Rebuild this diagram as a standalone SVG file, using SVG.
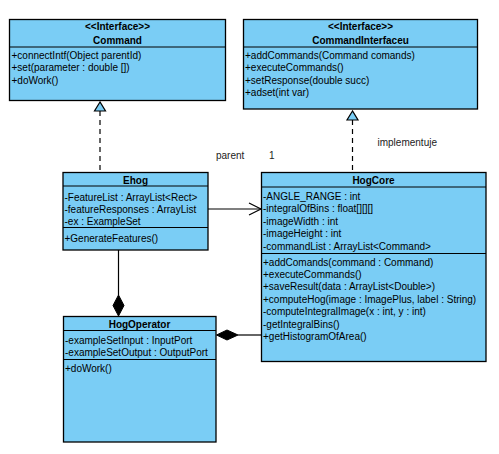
<svg xmlns="http://www.w3.org/2000/svg" width="499" height="454" viewBox="0 0 499 454">
<style>
.box{fill:#7ACDF5;stroke:#000;stroke-width:1.3}
.div{stroke:#000;stroke-width:1}
text{font-family:"Liberation Sans",Arial,sans-serif;font-size:10px;fill:#000}
.t{font-weight:bold;text-anchor:middle}
.lbl{font-size:10px;fill:#222}
.ln{stroke:#000;stroke-width:1.2;fill:none}
.dash{stroke-dasharray:5,4}
</style>
<rect width="499" height="454" fill="#fff"/>

<g id="Command">
<rect class="box" x="9.5" y="19.5" width="216" height="81"/>
<line class="div" x1="9.5" y1="47" x2="225.5" y2="47"/>
<text class="t" x="117.5" y="30">&lt;&lt;Interface&gt;&gt;</text>
<text class="t" x="117.5" y="43.5">Command</text>
<text x="11.5" y="59">+connectIntf(Object parentId)</text>
<text x="11.5" y="71.4">+set(parameter : double [])</text>
<text x="11.5" y="83.8">+doWork()</text>
</g>

<g id="CommandInterfaceu">
<rect class="box" x="243.5" y="19.5" width="234" height="89.5"/>
<line class="div" x1="243.5" y1="47" x2="477.5" y2="47"/>
<text class="t" x="360.5" y="30">&lt;&lt;Interface&gt;&gt;</text>
<text class="t" x="360.5" y="43.5">CommandInterfaceu</text>
<text x="245" y="59">+addCommands(Command comands)</text>
<text x="245" y="71.4">+executeCommands()</text>
<text x="245" y="83.8">+setResponse(double succ)</text>
<text x="245" y="96.2">+adset(int var)</text>
</g>

<g id="Ehog">
<rect class="box" x="63" y="172.5" width="145" height="77.5"/>
<line class="div" x1="63" y1="186" x2="208" y2="186"/>
<line class="div" x1="63" y1="227.5" x2="208" y2="227.5"/>
<text class="t" x="135.5" y="184">Ehog</text>
<text x="64.5" y="200.5">-FeatureList : ArrayList&lt;Rect&gt;</text>
<text x="64.5" y="212.9">-featureResponses : ArrayList</text>
<text x="64.5" y="225">-ex : ExampleSet</text>
<text x="64.5" y="241.8">+GenerateFeatures()</text>
</g>

<g id="HogCore">
<rect class="box" x="261.5" y="172.5" width="224.5" height="189"/>
<line class="div" x1="261.5" y1="187" x2="486" y2="187"/>
<line class="div" x1="261.5" y1="253.5" x2="486" y2="253.5"/>
<text class="t" x="373.5" y="184">HogCore</text>
<text x="263" y="200">-ANGLE_RANGE : int</text>
<text x="263" y="212.4">-integralOfBins : float[][][]</text>
<text x="263" y="224.8">-imageWidth : int</text>
<text x="263" y="237.2">-imageHeight : int</text>
<text x="263" y="249.6">-commandList : ArrayList&lt;Command&gt;</text>
<text x="263" y="265.6">+addComands(command : Command)</text>
<text x="263" y="278">+executeCommands()</text>
<text x="263" y="290.4">+saveResult(data : ArrayList&lt;Double&gt;)</text>
<text x="263" y="302.8">+computeHog(image : ImagePlus, label : String)</text>
<text x="263" y="315.2">-computeIntegralImage(x : int, y : int)</text>
<text x="263" y="327.6">-getIntegralBins()</text>
<text x="263" y="340">+getHistogramOfArea()</text>
</g>

<g id="HogOperator">
<rect class="box" x="63.5" y="316.5" width="152.5" height="125.5"/>
<line class="div" x1="63.5" y1="330.5" x2="216" y2="330.5"/>
<line class="div" x1="63.5" y1="359.5" x2="216" y2="359.5"/>
<text class="t" x="139.5" y="327.5">HogOperator</text>
<text x="65" y="344">-exampleSetInput : InputPort</text>
<text x="65" y="356.2">-exampleSetOutput : OutputPort</text>
<text x="65" y="372">+doWork()</text>
</g>

<g id="connectors">
<line class="ln dash" x1="100" y1="111" x2="100" y2="172"/>
<polygon points="100,102 94.5,111 105.5,111" fill="#7ACDF5" stroke="#000" stroke-width="1.2"/>
<line class="ln dash" x1="352.5" y1="120" x2="352.5" y2="172"/>
<polygon points="352.5,111 347,120 358,120" fill="#7ACDF5" stroke="#000" stroke-width="1.2"/>
<text class="lbl" x="377.5" y="146">implementuje</text>
<line class="ln" x1="208" y1="209" x2="261" y2="209"/>
<polyline class="ln" points="249,203 261,209 249,215"/>
<text class="lbl" x="216" y="158.5">parent</text>
<text class="lbl" x="269" y="158.5">1</text>
<line class="ln" x1="118.5" y1="250" x2="118.5" y2="295"/>
<polygon points="118.5,295 124,305.5 118.5,316 113,305.5" fill="#000" stroke="#000"/>
<line class="ln" x1="238" y1="335" x2="261.5" y2="335"/>
<polygon points="216.5,335 227,330 238,335 227,340" fill="#000" stroke="#000"/>
</g>
</svg>
